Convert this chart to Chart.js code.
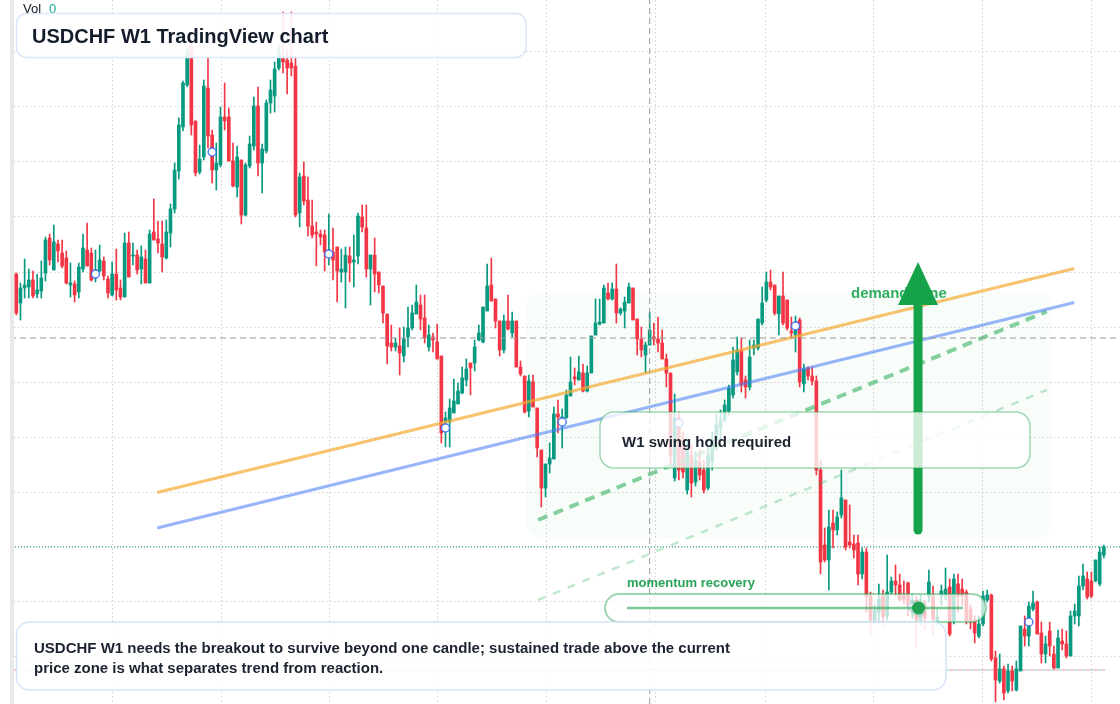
<!DOCTYPE html>
<html><head><meta charset="utf-8">
<script src="https://cdn.jsdelivr.net/npm/chart.js@4.4.1/dist/chart.umd.min.js"></script>
<style>html,body{margin:0;padding:0;background:#fff;overflow:hidden}canvas{display:block}</style>
</head><body>
<canvas id="c" width="1120" height="704"></canvas>
<script>
// USDCHF weekly candles (index = week number)
const opens = [
.9452,.9394,.9424,.9426,.9440,.9412,.9418,.9454,.9524,.9460,
.9512,.9494,.9484,.9430,.9432,.9416,.9462,.9500,.9494,.9444,
.9458,.9478,.9442,.9410,.9452,.9424,.9406,.9514,.9488,.9490,
.9462,.9482,.9434,.9536,.9522,.9512,.9484,.9534,.9582,.9658,
.9746,.9830,.9906,.9758,.9656,.9686,.9824,.9730,.9660,.9670,
.9766,.9766,.9678,.9626,.9680,.9570,.9668,.9708,.9788,.9674,
.9698,.9794,.9808,.9864,.9884,.9880,.9874,.9868,.9574,.9648,
.9600,.9548,.9536,.9532,.9530,.9486,.9496,.9506,.9456,.9456,
.9488,.9476,.9488,.9566,.9544,.9462,.9490,.9456,.9428,.9372,
.9314,.9306,.9308,.9288,.9326,.9344,.9372,.9390,.9364,.9306,
.9326,.9316,.9288,.9158,.9156,.9174,.9192,.9214,.9240,.9274,
.9274,.9320,.9316,.9378,.9430,.9402,.9358,.9300,.9358,.9334,
.9358,.9266,.9248,.9178,.9236,.9184,.9100,.9024,.9072,.9082,
.9172,.9154,.9164,.9208,.9246,.9240,.9254,.9218,.9254,.9330,
.9352,.9354,.9414,.9402,.9422,.9374,.9378,.9394,.9424,.9362,
.9322,.9290,.9310,.9326,.9322,.9314,.9282,.9254,.9044,.9164,
.9120,.9020,.9090,.9036,.9076,.9060,.9024,.9076,.9120,.9144,
.9160,.9178,.9210,.9256,.9300,.9240,.9226,.9304,.9304,.9354,
.9400,.9436,.9430,.9372,.9408,.9400,.9338,.9330,.9360,.9232,
.9264,.9248,.9238,.9060,.8910,.8880,.8954,.8940,.8970,.9000,
.8916,.8912,.8914,.8852,.8896,.8808,.8760,.8776,.8808,.8768,
.8816,.8838,.8830,.8810,.8834,.8780,.8800,.8760,.8776,.8808,
.8808,.8756,.8808,.8808,.8826,.8758,.8832,.8822,.8816,.8782,
.8758,.8728,.8752,.8800,.8810,.8684,.8638,.8662,.8618,.8658,
.8620,.8658,.8742,.8728,.8782,.8796,.8734,.8692,.8738,.8692,
.8664,.8718,.8712,.8688,.8768,.8768,.8828,.8842,.8838,.8838,
.8832,.8890];
const highs = [
.9454,.9434,.9482,.9462,.9458,.9452,.9478,.9526,.9532,.9550,
.9520,.9520,.9498,.9474,.9438,.9474,.9532,.9554,.9504,.9500,
.9510,.9486,.9448,.9476,.9502,.9440,.9534,.9536,.9514,.9500,
.9508,.9500,.9540,.9602,.9558,.9558,.9560,.9592,.9674,.9764,
.9838,.9904,.9920,.9758,.9710,.9840,.9884,.9740,.9714,.9786,
.9834,.9784,.9714,.9708,.9680,.9674,.9728,.9806,.9826,.9712,
.9800,.9840,.9876,.9910,.9976,.9900,.9976,.9886,.9654,.9676,
.9646,.9600,.9556,.9540,.9540,.9572,.9544,.9506,.9502,.9506,
.9506,.9530,.9574,.9590,.9590,.9490,.9524,.9456,.9428,.9372,
.9350,.9324,.9344,.9346,.9386,.9390,.9430,.9410,.9410,.9350,
.9334,.9352,.9288,.9176,.9202,.9242,.9234,.9266,.9282,.9274,
.9320,.9350,.9386,.9472,.9484,.9402,.9358,.9370,.9410,.9376,
.9358,.9278,.9248,.9250,.9250,.9184,.9100,.9072,.9114,.9186,
.9200,.9182,.9220,.9286,.9264,.9288,.9272,.9268,.9328,.9402,
.9402,.9430,.9434,.9434,.9472,.9384,.9406,.9434,.9424,.9362,
.9346,.9316,.9376,.9354,.9366,.9340,.9292,.9254,.9212,.9176,
.9136,.9120,.9110,.9096,.9100,.9080,.9110,.9136,.9172,.9180,
.9200,.9230,.9306,.9326,.9324,.9248,.9320,.9320,.9362,.9426,
.9456,.9460,.9430,.9408,.9456,.9400,.9366,.9368,.9364,.9272,
.9266,.9266,.9248,.9080,.8944,.8980,.8980,.8976,.9060,.9000,
.8990,.8930,.8930,.8904,.8904,.8816,.8790,.8832,.8820,.8890,
.8846,.8870,.8852,.8838,.8836,.8812,.8808,.8810,.8800,.8860,
.8828,.8782,.8830,.8864,.8842,.8852,.8852,.8842,.8820,.8790,
.8768,.8768,.8818,.8820,.8812,.8698,.8692,.8668,.8672,.8668,
.8678,.8748,.8768,.8796,.8818,.8798,.8756,.8728,.8756,.8708,
.8740,.8742,.8738,.8778,.8792,.8848,.8872,.8856,.8856,.8880,
.8906,.8910];
const lows = [
.9370,.9360,.9404,.9404,.9404,.9404,.9404,.9438,.9470,.9460,
.9476,.9464,.9432,.9406,.9396,.9404,.9456,.9468,.9438,.9436,
.9456,.9440,.9404,.9408,.9400,.9400,.9406,.9446,.9470,.9452,
.9432,.9434,.9434,.9520,.9494,.9456,.9482,.9506,.9574,.9642,
.9738,.9826,.9730,.9648,.9652,.9680,.9704,.9634,.9620,.9666,
.9740,.9678,.9626,.9606,.9552,.9568,.9664,.9700,.9648,.9614,
.9694,.9774,.9776,.9860,.9854,.9812,.9848,.9566,.9546,.9590,
.9528,.9524,.9468,.9510,.9458,.9470,.9440,.9396,.9436,.9384,
.9436,.9426,.9472,.9536,.9446,.9390,.9416,.9414,.9354,.9272,
.9298,.9298,.9250,.9276,.9306,.9340,.9372,.9340,.9314,.9298,
.9296,.9282,.9114,.9106,.9106,.9174,.9192,.9212,.9228,.9210,
.9258,.9318,.9314,.9378,.9398,.9344,.9288,.9294,.9340,.9326,
.9266,.9248,.9174,.9166,.9186,.9086,.8986,.9006,.9054,.9082,
.9134,.9104,.9164,.9208,.9230,.9240,.9216,.9216,.9254,.9330,
.9350,.9354,.9400,.9400,.9354,.9370,.9344,.9394,.9360,.9290,
.9286,.9254,.9310,.9310,.9296,.9282,.9226,.9070,.9038,.9040,
.9044,.9012,.9006,.9028,.9040,.9014,.9020,.9060,.9100,.9120,
.9156,.9170,.9204,.9250,.9216,.9204,.9220,.9290,.9300,.9350,
.9396,.9420,.9370,.9330,.9350,.9340,.9324,.9296,.9226,.9216,
.9240,.9230,.9050,.8852,.8876,.8820,.8904,.8930,.8964,.8900,
.8904,.8884,.8830,.8842,.8776,.8728,.8752,.8752,.8748,.8760,
.8812,.8808,.8798,.8792,.8768,.8764,.8702,.8750,.8740,.8796,
.8728,.8750,.8790,.8800,.8728,.8752,.8776,.8790,.8752,.8742,
.8714,.8724,.8748,.8796,.8678,.8596,.8634,.8600,.8614,.8618,
.8618,.8658,.8708,.8708,.8778,.8732,.8674,.8674,.8688,.8662,
.8664,.8700,.8684,.8688,.8752,.8748,.8820,.8802,.8804,.8836,
.8828,.8884];
const closes = [
.9374,.9424,.9430,.9440,.9408,.9420,.9444,.9520,.9480,.9516,
.9498,.9468,.9434,.9434,.9410,.9466,.9504,.9468,.9440,.9460,
.9480,.9448,.9414,.9452,.9420,.9406,.9514,.9446,.9490,.9460,
.9486,.9434,.9532,.9520,.9514,.9486,.9536,.9582,.9660,.9750,
.9834,.9900,.9750,.9654,.9682,.9828,.9728,.9660,.9674,.9766,
.9758,.9678,.9628,.9686,.9570,.9670,.9712,.9788,.9674,.9702,
.9794,.9820,.9862,.9900,.9876,.9864,.9864,.9570,.9646,.9598,
.9548,.9530,.9532,.9526,.9496,.9498,.9480,.9458,.9462,.9490,
.9474,.9480,.9568,.9546,.9462,.9490,.9452,.9430,.9374,.9308,
.9306,.9314,.9294,.9322,.9344,.9374,.9396,.9362,.9324,.9330,
.9320,.9282,.9134,.9164,.9184,.9198,.9218,.9244,.9262,.9264,
.9306,.9334,.9386,.9428,.9398,.9358,.9300,.9358,.9342,.9358,
.9266,.9252,.9176,.9238,.9186,.9104,.9024,.9072,.9084,.9172,
.9166,.9166,.9210,.9236,.9242,.9256,.9218,.9254,.9328,.9354,
.9356,.9424,.9402,.9422,.9374,.9382,.9396,.9426,.9360,.9322,
.9300,.9310,.9340,.9322,.9314,.9282,.9254,.9090,.9164,.9060,
.9056,.9100,.9034,.9080,.9050,.9020,.9090,.9120,.9150,.9160,
.9190,.9224,.9280,.9300,.9230,.9226,.9286,.9310,.9362,.9394,
.9436,.9426,.9374,.9408,.9354,.9344,.9334,.9356,.9236,.9262,
.9248,.9238,.9060,.8876,.8880,.8946,.8940,.8966,.9004,.8906,
.8910,.8900,.8852,.8896,.8808,.8760,.8780,.8802,.8766,.8816,
.8838,.8830,.8800,.8802,.8788,.8800,.8760,.8776,.8764,.8836,
.8762,.8766,.8818,.8822,.8732,.8842,.8808,.8808,.8758,.8756,
.8734,.8752,.8808,.8810,.8682,.8640,.8662,.8614,.8658,.8638,
.8662,.8748,.8728,.8788,.8794,.8732,.8692,.8712,.8708,.8664,
.8724,.8712,.8688,.8768,.8778,.8828,.8848,.8806,.8808,.8880,
.8896,.8906];

// grid (time marks in week index, price levels)
const gridX = [23.04, 49.05, 75.04, 100.9, 127.1, 153.3, 179.7, 205.7, 231.8, 257.9];
const gridY = [0.9897, 0.9787, 0.9677, 0.9567, 0.9457, 0.9347, 0.9237, 0.9127, 0.9017, 0.8907, 0.8797, 0.8687];

// drawn overlays (week index, price)
const trendOrange = [{x: 33.8, y: 0.9015}, {x: 253.9, y: 0.9463}];
const trendBlue   = [{x: 33.8, y: 0.8944}, {x: 253.9, y: 0.9395}];
const channelMain = [{x: 125.2, y: 0.8960}, {x: 247.3, y: 0.9377}];
const channelFaint= [{x: 125.2, y: 0.8800}, {x: 247.3, y: 0.9220}];
const markerIdx   = [19, 47, 75, 103, 131, 159, 187, 215, 243];
const markerPrice = [0.9452, 0.9696, 0.9492, 0.9144, 0.9156, 0.9154, 0.9348, 0.8786, 0.8756];
const crossIdx = 152, crossPrice = 0.9324;
const lowLevel = 0.8660;
const demandZone = {from: 122.3, to: 248.5, top: 0.9416, bottom: 0.8924};
const arrowUp = {x: 216.4, from: 0.8940, to: 0.9476};

const xMin = -3.912, xMax = 264.87, yMin = 0.8592, yMax = 1.0;
const GREEN = '#089981', RED = '#f23645';
const FONT = '"Liberation Sans", Arial, sans-serif';

const colors = opens.map((o, i) => closes[i] >= o ? GREEN : RED);
const bodies = opens.map((o, i) => ({x: i, y: [o, closes[i]]}));
const wicks = opens.map((o, i) => ({x: i, y: [lows[i], highs[i]]}));

function rr(ctx, x, y, w, h, r) {
  ctx.beginPath();
  ctx.moveTo(x + r, y);
  ctx.arcTo(x + w, y, x + w, y + h, r);
  ctx.arcTo(x + w, y + h, x, y + h, r);
  ctx.arcTo(x, y + h, x, y, r);
  ctx.arcTo(x, y, x + w, y, r);
  ctx.closePath();
}

const overlay = {
  id: 'overlay',
  beforeDatasetsDraw(chart) {
    const {ctx, scales: {x, y}} = chart;
    ctx.save();
    // dotted grid from scale positions
    ctx.strokeStyle = '#d2d2d2'; ctx.lineWidth = 1; ctx.setLineDash([1.5, 2.5]);
    gridX.forEach(v => {
      const px = Math.round(x.getPixelForValue(v)) + 0.5;
      ctx.beginPath(); ctx.moveTo(px, 0); ctx.lineTo(px, 704); ctx.stroke();
    });
    gridY.forEach(v => {
      const py = Math.round(y.getPixelForValue(v)) + 0.5;
      ctx.beginPath(); ctx.moveTo(14, py); ctx.lineTo(1120, py); ctx.stroke();
    });
    ctx.setLineDash([]);
    // demand zone
    const x1 = x.getPixelForValue(demandZone.from), x2 = x.getPixelForValue(demandZone.to);
    const y1 = y.getPixelForValue(demandZone.top), y2 = y.getPixelForValue(demandZone.bottom);
    rr(ctx, x1, y1, x2 - x1, y2 - y1, 16);
    ctx.fillStyle = 'rgba(34,197,94,0.03)';
    ctx.fill();
    ctx.restore();
  },
  afterDatasetsDraw(chart) {
    const {ctx, scales: {x, y}} = chart;
    ctx.save();
    // left frame strip
    ctx.fillStyle = '#ffffff'; ctx.fillRect(0, 0, 10, 704);
    ctx.fillStyle = '#e9e9e9'; ctx.fillRect(10, 0, 4, 704);

    // demand zone label
    ctx.font = 'bold 15px ' + FONT;
    ctx.fillStyle = '#2fae5e';
    ctx.textBaseline = 'alphabetic';
    ctx.fillText('demand zone', 851, 298);

    // arrow
    const ax = x.getPixelForValue(arrowUp.x);
    const ay0 = y.getPixelForValue(arrowUp.from), ay1 = y.getPixelForValue(arrowUp.to);
    const headLen = 43, headHalf = 20;
    ctx.strokeStyle = '#16a34a'; ctx.fillStyle = '#16a34a';
    ctx.lineWidth = 9; ctx.lineCap = 'round';
    ctx.beginPath(); ctx.moveTo(ax, ay0); ctx.lineTo(ax, ay1 + headLen - 2); ctx.stroke();
    ctx.beginPath(); ctx.moveTo(ax, ay1); ctx.lineTo(ax + headHalf, ay1 + headLen); ctx.lineTo(ax - headHalf, ay1 + headLen); ctx.closePath(); ctx.fill();

    // W1 box
    rr(ctx, 600, 412, 430, 56, 14);
    ctx.fillStyle = 'rgba(255,255,255,0.78)'; ctx.fill();
    ctx.lineWidth = 1.5; ctx.strokeStyle = 'rgba(34,165,80,0.42)'; ctx.stroke();
    ctx.fillStyle = '#1b2230'; ctx.font = 'bold 15px ' + FONT;
    ctx.fillText('W1 swing hold required', 622, 447);

    // momentum pill
    rr(ctx, 605, 594, 381, 28, 14);
    ctx.fillStyle = 'rgba(255,255,255,0.72)'; ctx.fill();
    ctx.lineWidth = 2; ctx.strokeStyle = 'rgba(34,165,80,0.45)'; ctx.stroke();
    ctx.lineCap = 'butt';
    ctx.beginPath(); ctx.moveTo(627, 608); ctx.lineTo(963, 608);
    ctx.lineWidth = 2.5; ctx.strokeStyle = 'rgba(34,165,80,0.6)'; ctx.stroke();
    ctx.beginPath(); ctx.arc(918.5, 608, 9, 0, Math.PI * 2); ctx.fillStyle = 'rgba(34,165,80,0.15)'; ctx.fill();
    ctx.beginPath(); ctx.arc(918.5, 608, 6.5, 0, Math.PI * 2); ctx.fillStyle = '#22a152'; ctx.fill();
    ctx.font = 'bold 13px ' + FONT; ctx.fillStyle = '#27a556';
    ctx.fillText('momentum recovery', 627, 587);

    // title box
    rr(ctx, 16.5, 13.5, 509.5, 44, 10);
    ctx.fillStyle = 'rgba(255,255,255,0.9)'; ctx.fill();
    ctx.lineWidth = 1.5; ctx.strokeStyle = '#dbe6fb'; ctx.stroke();
    ctx.font = 'bold 20px ' + FONT; ctx.fillStyle = '#131c2b';
    ctx.fillText('USDCHF W1 TradingView chart', 32, 43);

    // bottom note
    rr(ctx, 16.5, 622, 929.5, 68, 13);
    ctx.fillStyle = 'rgba(255,255,255,0.9)'; ctx.fill();
    ctx.lineWidth = 1.5; ctx.strokeStyle = '#d6e4fb'; ctx.stroke();
    ctx.font = 'bold 15px ' + FONT; ctx.fillStyle = '#1b2230';
    ctx.fillText('USDCHF W1 needs the breakout to survive beyond one candle; sustained trade above the current', 34, 653);
    ctx.fillText('price zone is what separates trend from reaction.', 34, 673);

    // Vol legend
    ctx.font = '13px ' + FONT;
    ctx.fillStyle = '#131722'; ctx.fillText('Vol', 23, 13);
    ctx.fillStyle = '#22ab94'; ctx.fillText('0', 49, 13);
    ctx.restore();
  }
};

const lineDs = (data, color, width, dash, order) => ({
  type: 'line', data, borderColor: color, borderWidth: width, borderDash: dash || [],
  pointRadius: 0, fill: false, tension: 0, order
});

new Chart(document.getElementById('c'), {
  type: 'bar',
  data: {
    datasets: [
      {type: 'line', data: markerIdx.map((v, k) => ({x: v, y: markerPrice[k]})), showLine: false,
       pointRadius: 4, pointBorderWidth: 1.5, pointBorderColor: 'rgba(41,98,255,0.8)',
       pointBackgroundColor: '#ffffff', order: 0},
      lineDs([{x: crossIdx, y: yMin}, {x: crossIdx, y: yMax}], '#9a9a9a', 1, [6, 4], 1),
      lineDs([{x: xMin, y: crossPrice}, {x: xMax, y: crossPrice}], '#9a9a9a', 1, [6, 4], 1),
      lineDs(trendOrange, 'rgba(245,170,50,0.7)', 3, null, 2),
      lineDs(trendBlue, 'rgba(70,120,245,0.55)', 3, null, 2),
      lineDs(channelMain, 'rgba(34,170,80,0.55)', 4, [10, 7], 2),
      lineDs(channelFaint, 'rgba(34,170,80,0.28)', 2.5, [8, 8], 2),
      {label: 'body', data: bodies, backgroundColor: colors, borderWidth: 0, barThickness: 3,
       minBarLength: 1, grouped: false, order: 4},
      {label: 'wick', data: wicks, backgroundColor: colors, borderWidth: 0, barThickness: 1,
       grouped: false, order: 5},
      lineDs([{x: xMin, y: closes[closes.length - 1]}, {x: xMax, y: closes[closes.length - 1]}], GREEN, 1, [1, 2], 6),
      lineDs([{x: -0.55, y: lowLevel}, {x: 261.3, y: lowLevel}], 'rgba(242,54,69,0.55)', 1, [4, 4], 6),
      Object.assign(lineDs([{x: -0.55, y: lowLevel}, {x: 261.3, y: lowLevel}], 'rgba(8,153,129,0.45)', 1, [4, 4], 6), {borderDashOffset: 4})
    ]
  },
  options: {
    responsive: false, animation: false, events: [],
    layout: {padding: 0, autoPadding: false},
    plugins: {legend: {display: false}, tooltip: {enabled: false}},
    scales: {
      x: {type: 'linear', min: xMin, max: xMax, offset: false, display: false},
      y: {type: 'linear', min: yMin, max: yMax, display: false}
    }
  },
  plugins: [overlay]
});
</script>
</body></html>
